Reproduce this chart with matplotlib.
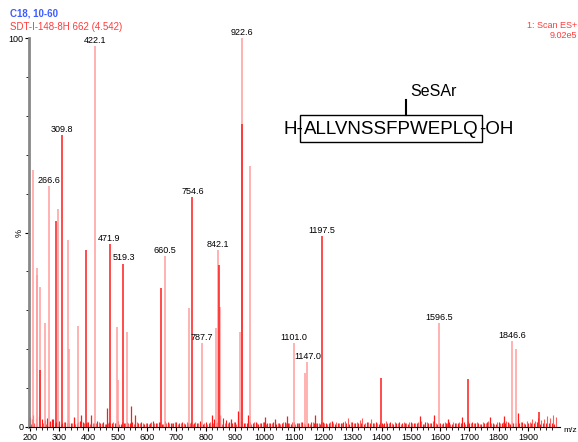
import numpy as np
import matplotlib
matplotlib.use("Agg")
import matplotlib.pyplot as plt
from matplotlib.patches import Rectangle

plt.rcParams['font.family'] = ['Liberation Sans', 'DejaVu Sans']

# main peaks: m/z, relative intensity (%), shade (1 = dark red, 0 = light)
peak_mz = [209, 223, 226, 233, 235, 252, 266.6, 290, 297, 309.8, 329, 333, 365,
           393, 422.1, 471.9, 498, 500, 519.3, 530, 648, 660.5, 744, 754.6,
           787.7, 835, 842.1, 844, 849, 917, 922.6, 923, 950, 1101.0, 1139,
           1147.0, 1197.5, 1398, 1596.5, 1694, 1846.6, 1859, 1938]
peak_int = [66, 41, 39, 36, 14.6, 26.7, 62, 53, 56, 75, 48, 20, 26,
            45.5, 98, 47, 25.7, 12, 42, 24.4, 35.7, 44, 30.5, 59,
            21.6, 25.4, 45.5, 41.6, 30.8, 24.4, 100, 78, 67, 21.6, 14,
            16.7, 49, 12.6, 26.7, 12.3, 22, 20, 3.8]
peak_dark = [0, 0, 0, 0, 1, 0, 0, 1, 0, 1, 0, 0, 0,
             1, 0, 1, 0, 0, 1, 0, 1, 0, 0, 1,
             0, 0, 0, 1, 0, 0, 0, 1, 0, 0, 0,
             0, 1, 1, 0, 1, 0, 0, 1]

# small peaks
small_mz = [208, 276, 350, 376, 408, 464, 545, 560, 822, 848, 888, 909, 944,
            1002, 1036, 1078, 1173, 1230, 1531, 1579, 1628, 1673, 1770, 1819, 1864]
small_int = [2, 2, 2.5, 3, 3, 5, 5.5, 3, 3, 3, 2, 4, 3,
             2.5, 2, 2.7, 3, 1.5, 2.8, 3, 2, 2.5, 2.5, 2.8, 3.5]

# baseline noise, every 10 m/z from 200
noise_int = [2.5, 3.0, 2.2, 2.8, 2.0, 1.8, 2.4, 1.5, 2.0, 1.2,
             1.6, 1.0, 1.4, 1.8, 1.1, 1.3, 0.9, 1.5, 1.2, 1.0,
             1.4, 0.8, 1.1, 1.6, 1.0, 1.2, 0.7, 1.3, 0.9, 1.1,
             1.5, 0.8, 1.0, 1.2, 0.9, 1.4, 0.7, 1.0, 1.3, 0.8,
             1.1, 0.9, 1.5, 1.0, 1.2, 0.8, 1.6, 1.3, 1.1, 0.9,
             1.2, 1.0, 1.4, 0.8, 1.1, 1.3, 0.9, 1.0, 1.5, 0.8,
             1.2, 1.1, 0.9, 2.0, 1.4, 1.0, 2.2, 1.8, 1.2, 1.0,
             1.3, 2.4, 1.6, 1.1, 0.9, 1.2, 1.0, 1.4, 0.8, 1.1,
             1.3, 0.9, 1.0, 1.2, 0.8, 1.1, 0.9, 1.3, 1.0, 0.8,
             1.2, 0.9, 1.1, 1.4, 0.8, 1.0, 1.2, 0.9, 1.1, 0.8,
             1.3, 1.0, 0.9, 1.2, 0.8, 1.1, 1.0, 1.3, 0.9, 0.8,
             1.2, 1.0, 0.9, 1.1, 0.8, 1.2, 1.0, 0.9, 1.3, 0.8,
             1.1, 0.9, 1.0, 1.2, 0.8, 1.1, 1.3, 0.9, 1.0, 0.8,
             1.2, 0.9, 1.1, 1.0, 0.8, 1.3, 0.9, 1.0, 1.2, 0.8,
             1.1, 1.0, 0.9, 1.2, 0.8, 1.1, 0.9, 1.0, 1.3, 0.8,
             1.0, 1.2, 0.9, 1.1, 0.8, 1.0, 1.2, 0.9, 1.1, 0.8,
             1.3, 0.9, 1.0, 1.2, 0.8, 1.1, 0.9, 1.0, 1.2, 0.8,
             1.1, 1.0, 0.9, 1.2, 0.8, 1.0, 1.1, 0.9, 1.0, 0.8]
noise_mz = np.arange(200, 2000, 10)

label_mz = [422.1, 922.6, 309.8, 266.6, 754.6, 471.9, 519.3, 660.5, 842.1,
            1197.5, 1101.0, 1147.0, 787.7, 1596.5, 1846.6]

fig = plt.figure(figsize=(5.78, 4.42), dpi=100)
ax = fig.add_axes([29/578, 1 - 427/442, 531/578, 389/442])

RED = '#ff1a1a'
PINK = '#ff9c9c'

ax.vlines(noise_mz, 0, noise_int, color=RED, lw=0.8)
ax.vlines(noise_mz + 5, 0, noise_int[::-1], color='#ff5c5c', lw=0.8)
ax.vlines(small_mz, 0, small_int, color=RED, lw=0.9)
for m, h, d in zip(peak_mz, peak_int, peak_dark):
    ax.vlines(m, 0, h, color=RED if d else PINK, lw=1.1, zorder=3 if d else 2)

for m in label_mz:
    h = max(hh for mm, hh in zip(peak_mz, peak_int) if mm == m)
    ax.text(m, h + 0.3, f"{m:.1f}", ha='center', va='bottom', fontsize=6.5,
            color='black', clip_on=False)

ax.set_xlim(197, 2009)
ax.set_ylim(0, 100)
ax.set_xticks(np.arange(200, 2000, 100))
ax.set_xticks(np.arange(200, 2000, 20), minor=True)
ax.set_yticks([0, 50, 100])
ax.set_yticklabels(['0', '%', '100'])
ax.set_yticks(np.arange(0, 101, 10), minor=True)
ax.tick_params(axis='both', labelsize=6.5, length=3, width=0.8, pad=1)
ax.tick_params(axis='both', which='minor', length=2, width=0.6)
for lab in ax.get_yticklabels():
    if lab.get_text() == '%':
        lab.set_rotation(90)
        lab.set_va('center')
for s in ['top', 'right']:
    ax.spines[s].set_visible(False)
ax.spines['left'].set_color('#888888')
ax.spines['left'].set_linewidth(2)
ax.spines['bottom'].set_linewidth(0.8)

fig.text(563/578, 1 - 431/442, 'm/z', fontsize=6, va='center', ha='left')

fig.text(10/578, 1 - 14/442, 'C18, 10-60', color='#3d5cff', fontsize=7,
         fontweight='bold', va='center')
fig.text(10/578, 1 - 27/442, 'SDT-I-148-8H 662 (4.542)', color='#ff3b3b',
         fontsize=7, va='center')
fig.text(577/578, 1 - 26/442, '1: Scan ES+', color='#ff3b3b', fontsize=6.5,
         va='center', ha='right')
fig.text(577/578, 1 - 36/442, '9.02e5', color='#ff3b3b', fontsize=6.5,
         va='center', ha='right')

# peptide structure
fig.text(433/578, 1 - 92/442, 'SeSAr', fontsize=11.5, ha='center', va='center')
fig.text(303/578, 1 - 129/442, 'H-', fontsize=13.5, ha='right', va='center')
fig.text(391/578, 1 - 129/442, 'ALLVNSSFPWEPLQ', fontsize=13.5, ha='center',
         va='center')
fig.text(479/578, 1 - 129/442, '-OH', fontsize=13.5, ha='left', va='center')
fig.patches.append(Rectangle((300/578, 1 - 142/442), 182/578, 27/442,
                             fill=False, lw=1.0, ec='black',
                             transform=fig.transFigure, figure=fig))
fig.lines.append(plt.Line2D([406/578, 406/578], [1 - 100/442, 1 - 115/442],
                            color='black', lw=1.5, transform=fig.transFigure))

fig.savefig('out.png', dpi=100)
